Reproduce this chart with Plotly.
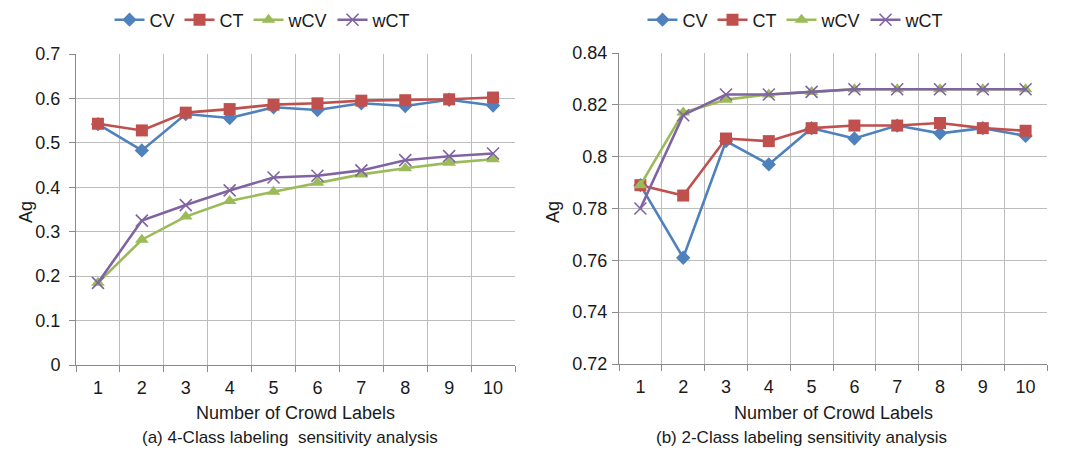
import plotly.graph_objects as go

x = [1, 2, 3, 4, 5, 6, 7, 8, 9, 10]
series_names = ["CV", "CT", "wCV", "wCT"]

# (a) 4-class
a_cv = [0.542, 0.483, 0.565, 0.556, 0.580, 0.574, 0.589, 0.583, 0.597, 0.584]
a_ct = [0.543, 0.528, 0.568, 0.576, 0.586, 0.589, 0.595, 0.596, 0.598, 0.602]
a_wcv = [0.185, 0.282, 0.334, 0.369, 0.390, 0.410, 0.429, 0.443, 0.455, 0.463]
a_wct = [0.185, 0.325, 0.360, 0.393, 0.422, 0.426, 0.438, 0.461, 0.470, 0.476]

# (b) 2-class
b_cv = [0.789, 0.761, 0.806, 0.797, 0.811, 0.807, 0.812, 0.809, 0.811, 0.808]
b_ct = [0.789, 0.785, 0.807, 0.806, 0.811, 0.812, 0.812, 0.813, 0.811, 0.810]
b_wcv = [0.789, 0.817, 0.822, 0.824, 0.825, 0.826, 0.826, 0.826, 0.826, 0.826]
b_wct = [0.780, 0.816, 0.824, 0.824, 0.825, 0.826, 0.826, 0.826, 0.826, 0.826]

a_yticks = [0, 0.1, 0.2, 0.3, 0.4, 0.5, 0.6, 0.7]
a_ylabels = ["0", "0.1", "0.2", "0.3", "0.4", "0.5", "0.6", "0.7"]
b_yticks = [0.72, 0.74, 0.76, 0.78, 0.80, 0.82, 0.84]
b_ylabels = ["0.72", "0.74", "0.76", "0.78", "0.8", "0.82", "0.84"]

colors = ["#4F81BD", "#C0504D", "#9BBB59", "#8064A2"]
symbols = ["diamond", "square", "triangle-up", "x-thin-open"]
msizes = [11, 12, 12, 12]

FONT = "Liberation Sans, Arial, sans-serif"
TXT = "#1a1a1a"
GRID = "#BDBDBD"
AXL = "#8A8A8A"
FS = 18

fig = go.Figure()

def add_set(vals, xa, ya, legend):
    for i, (name, v) in enumerate(zip(series_names, vals)):
        marker = dict(symbol=symbols[i], size=msizes[i], color=colors[i])
        if symbols[i] == "x-thin-open":
            marker["line"] = dict(color=colors[i], width=1.6)
        fig.add_trace(go.Scatter(
            x=x, y=v, name=name, mode="lines+markers",
            line=dict(color=colors[i], width=2.6),
            marker=marker, xaxis=xa, yaxis=ya, legend=legend,
        ))

add_set([a_cv, a_ct, a_wcv, a_wct], "x", "y", "legend")
add_set([b_cv, b_ct, b_wcv, b_wct], "x2", "y2", "legend2")

# page body has an 8px default margin; size the figure to fill the rest
OFF = 8
W, H = 1072 - OFF, 454 - OFF
def px_x(p): return (p - OFF) / W
def px_y(p): return 1 - (p - OFF) / H

xcommon = dict(
    range=[0.5, 10.5], tickvals=x, ticktext=[str(v) for v in x],
    showgrid=False, zeroline=False, showline=True, linecolor=AXL, linewidth=1,
    ticks="", tickfont=dict(family=FONT, size=FS, color=TXT),
    ticklabelstandoff=6,
    minor=dict(tickvals=[i + 0.5 for i in range(0, 11)], showgrid=True,
               gridcolor=GRID, gridwidth=1, ticks="outside", ticklen=6,
               tickcolor=AXL),
    fixedrange=True, automargin=False,
)
ycommon = dict(
    showgrid=True, gridcolor=GRID, gridwidth=1, zeroline=False,
    showline=True, linecolor=AXL, linewidth=1, ticks="outside", ticklen=6,
    tickcolor=AXL, tickfont=dict(family=FONT, size=FS, color=TXT),
    fixedrange=True, automargin=False,
)

fig.update_layout(
    width=W, height=H,
    margin=dict(l=0, r=0, t=0, b=0, autoexpand=False),
    paper_bgcolor="white", plot_bgcolor="white",
    font=dict(family=FONT, color=TXT, size=FS),
    xaxis=dict(domain=[px_x(76), px_x(515)], anchor="y", **xcommon),
    yaxis=dict(domain=[px_y(365), px_y(54)], anchor="x", range=[0, 0.7],
               tickvals=a_yticks, ticktext=a_ylabels, ticklabelstandoff=5,
               **ycommon),
    xaxis2=dict(domain=[px_x(619), px_x(1047)], anchor="y2", **xcommon),
    yaxis2=dict(domain=[px_y(364), px_y(53)], anchor="x2", range=[0.72, 0.84],
                tickvals=b_yticks, ticktext=b_ylabels, ticklabelstandoff=1,
                **ycommon),
    legend=dict(orientation="h", x=px_x(263), xanchor="center", y=px_y(20),
                yanchor="middle", font=dict(family=FONT, size=FS, color=TXT),
                bgcolor="rgba(0,0,0,0)", itemwidth=30, tracegroupgap=0),
    legend2=dict(orientation="h", x=px_x(796), xanchor="center", y=px_y(20),
                 yanchor="middle", font=dict(family=FONT, size=FS, color=TXT),
                 bgcolor="rgba(0,0,0,0)", itemwidth=30, tracegroupgap=0),
    showlegend=True,
)

ann_font = dict(family=FONT, size=FS, color=TXT)
sub_font = dict(family=FONT, size=17, color=TXT)
annotations = [
    dict(text="Number of Crowd Labels", x=px_x(295), y=px_y(413), font=ann_font),
    dict(text="(a) 4-Class labeling  sensitivity analysis", x=px_x(290), y=px_y(437), font=sub_font),
    dict(text="Number of Crowd Labels", x=px_x(833), y=px_y(413), font=ann_font),
    dict(text="(b) 2-Class labeling sensitivity analysis", x=px_x(801), y=px_y(437), font=sub_font),
]
for a in annotations:
    fig.add_annotation(xref="paper", yref="paper", showarrow=False,
                       xanchor="center", yanchor="middle", **a)
for xx in [26, 553]:
    fig.add_annotation(text="Ag", xref="paper", yref="paper", x=px_x(xx), y=px_y(212),
                       showarrow=False, textangle=-90, xanchor="center",
                       yanchor="middle", font=ann_font)

fig.write_html("out.html")
